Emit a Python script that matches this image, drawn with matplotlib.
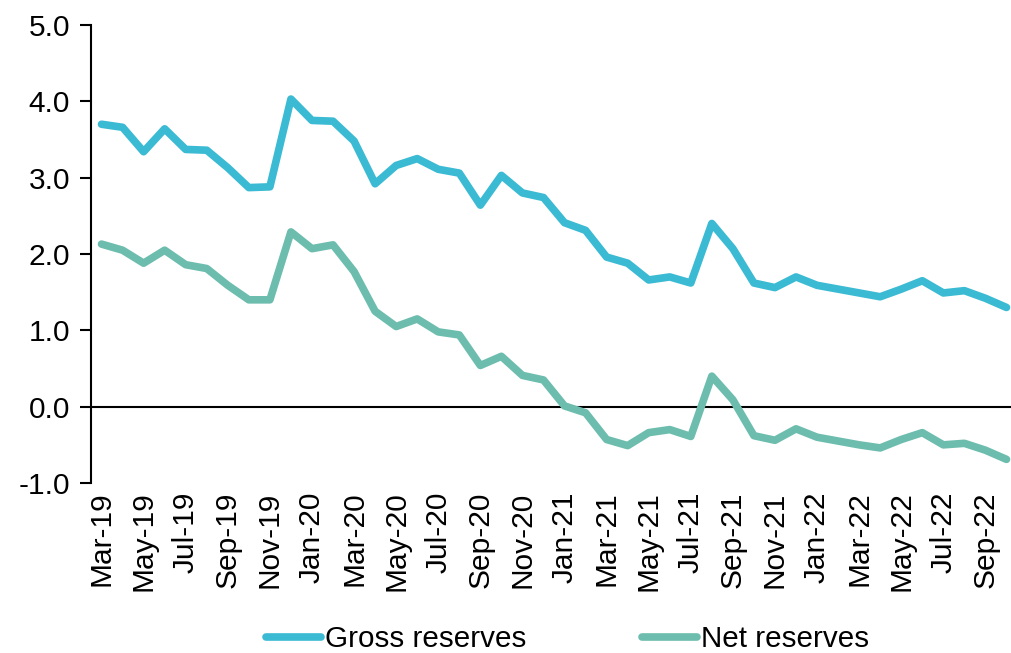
import numpy as np
import pandas as pd
import matplotlib
matplotlib.use("Agg")
import matplotlib.pyplot as plt

plt.rcParams['font.family'] = ['Liberation Sans', 'DejaVu Sans']

# monthly, Mar-19 .. Oct-22
months = pd.date_range("2019-03-01", "2022-10-01", freq="MS")

gross = [3.70, 3.66, 3.34, 3.64, 3.37, 3.36, 3.13, 2.87, 2.88, 4.03,
         3.75, 3.74, 3.48, 2.92, 3.16, 3.25, 3.11, 3.06, 2.64, 3.03,
         2.80, 2.74, 2.41, 2.31, 1.96, 1.88, 1.66, 1.70, 1.62, 2.40,
         2.07, 1.62, 1.56, 1.70, 1.59, 1.54, 1.49, 1.44, 1.54, 1.65,
         1.49, 1.52, 1.42, 1.30]

net = [2.13, 2.05, 1.88, 2.05, 1.86, 1.81, 1.59, 1.40, 1.40, 2.29,
       2.07, 2.12, 1.77, 1.25, 1.05, 1.15, 0.98, 0.94, 0.54, 0.66,
       0.41, 0.35, 0.01, -0.08, -0.43, -0.51, -0.34, -0.30, -0.39, 0.40,
       0.09, -0.38, -0.44, -0.29, -0.40, -0.45, -0.50, -0.54, -0.43, -0.34,
       -0.50, -0.48, -0.57, -0.69]

labels = [m.strftime("%b-%y") for m in months]
x = np.arange(len(months))

fig = plt.figure(figsize=(10.12, 6.53), dpi=100)
ax = fig.add_axes([91/1012, 0.2603, 926/1012, 0.7014])

ax.plot(x, gross, color="#3BBAD3", lw=5.5, solid_joinstyle="round",
        solid_capstyle="round", label="Gross reserves")
ax.plot(x, net, color="#6DBDAE", lw=5.5, solid_joinstyle="round",
        solid_capstyle="round", label="Net reserves")
ax.axhline(0, color="black", lw=1.5, zorder=1)

ax.set_xlim(-0.5, 43.5)
ax.set_ylim(-1, 5)
ax.set_yticks(np.arange(-1, 6, 1))
ax.set_yticklabels(["%.1f" % v for v in np.arange(-1, 6, 1)], fontsize=21.5)
ax.set_xticks(x[::2])
ax.set_xticklabels(labels[::2], rotation=90, fontsize=21.5)
ax.tick_params(axis="x", length=0, pad=6)
ax.tick_params(axis="y", length=8, width=1.5, direction="out", pad=7)

for s in ["top", "right", "bottom"]:
    ax.spines[s].set_visible(False)
ax.spines["left"].set_linewidth(1.5)

ax.legend(loc="lower center", bbox_to_anchor=(0.515, -0.43), ncol=2,
          frameon=False, fontsize=21.3, handlelength=1.85, handletextpad=0.15,
          columnspacing=3.9)

fig.savefig("out.png", dpi=100)
